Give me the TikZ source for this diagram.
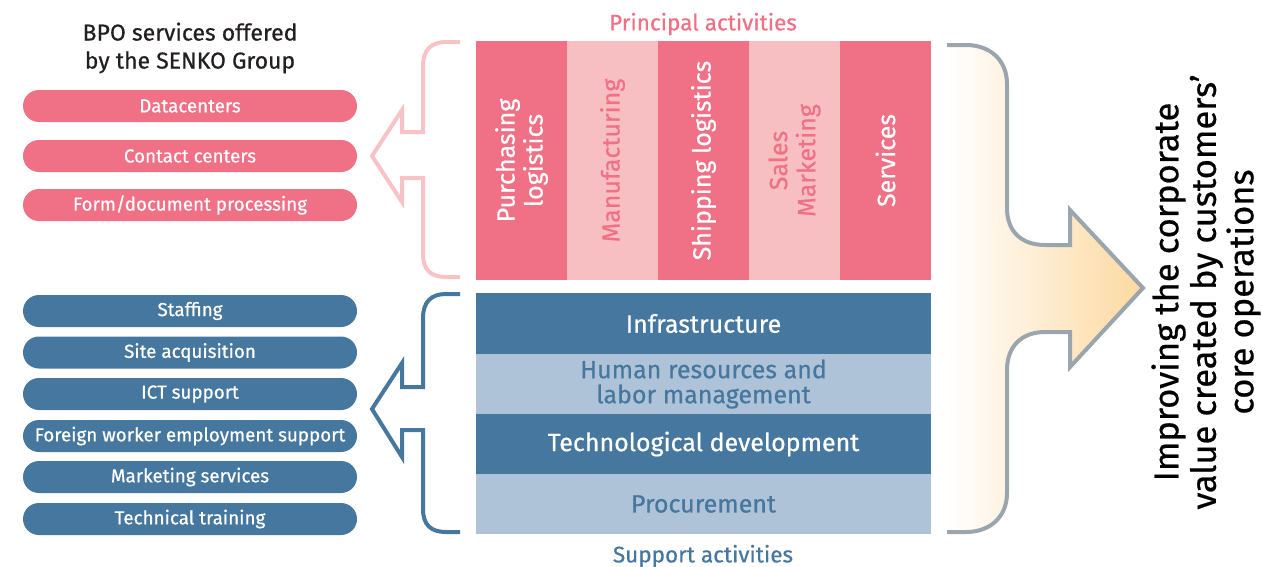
\documentclass[tikz,border=0pt]{standalone}
\usepackage{fontspec}
\setmainfont{Fira Sans}[FakeBold=0.6]
\definecolor{pinkD}{HTML}{F07086}
\definecolor{pinkL}{HTML}{F8BFC3}
\definecolor{pinkLine}{HTML}{F7C3C6}
\definecolor{blueD}{HTML}{46779E}
\definecolor{blueL}{HTML}{AFC3D8}
\definecolor{grayLine}{HTML}{9AA5AD}
\definecolor{orangeF}{HTML}{FDD9A0}
\definecolor{titleC}{HTML}{231F20}
\tikzset{
  pill/.style={rectangle, rounded corners=16pt, minimum width=334pt, minimum height=32pt, inner sep=0pt, text=white, font=\fontsize{18.8}{20}\selectfont},
  pinkpill/.style={pill, fill=pinkD},
  bluepill/.style={pill, fill=blueD},
  colbox/.style={rectangle, minimum width=91pt, minimum height=239pt, inner sep=0pt},
  coltext/.style={rotate=90, align=center, inner sep=0pt, font=\fontsize{25}{28}\selectfont},
  rowbox/.style={rectangle, minimum width=455pt, minimum height=60.5pt, inner sep=0pt, align=center, font=\fontsize{25}{25}\selectfont},
  bracket/.style={line width=4pt, line join=miter},
}
\begin{document}
\begin{tikzpicture}[x=1pt,y=-1pt]
\useasboundingbox (0,0) rectangle (1262,566);

% title
\node[align=center, text=titleC, font=\fontsize{23}{28}\selectfont] (title) at (190,48) {BPO services offered\\by the SENKO Group};

% pink pills
\node[pinkpill] (p1) at (190,106) {Datacenters};
\node[pinkpill] (p2) at (190,156) {Contact centers};
\node[pinkpill] (p3) at (190,205) {Form/document processing};

% blue pills
\node[bluepill] (b1) at (190,311) {Staffing};
\node[bluepill] (b2) at (190,352.5) {Site acquisition};
\node[bluepill] (b3) at (190,394) {ICT support};
\node[bluepill] (b4) at (190,436) {Foreign worker employment support};
\node[bluepill] (b5) at (190,477) {Marketing services};
\node[bluepill] (b6) at (190,519) {Technical training};

% principal activities
\node[text=pinkD, font=\fontsize{22.5}{24}\selectfont] (pa) at (703,24) {Principal activities};
\node[colbox, fill=pinkD] (c1) at (521.5,160.5) {};
\node[colbox, fill=pinkL] (c2) at (612.5,160.5) {};
\node[colbox, fill=pinkD] (c3) at (703.5,160.5) {};
\node[colbox, fill=pinkL] (c4) at (794.5,160.5) {};
\node[colbox, fill=pinkD] (c5) at (885.5,160.5) {};
\node[coltext, text=white] (t1) at (c1) {Purchasing\\logistics};
\node[coltext, text=pinkD] (t2) at (c2) {Manufacturing};
\node[coltext, text=white] (t3) at (c3) {Shipping logistics};
\node[coltext, text=pinkD] (t4) at (c4) {Sales\\Marketing};
\node[coltext, text=white] (t5) at (c5) {Services};

% support activities
\node[rowbox, fill=blueD, text=white] (r1) at (703.5,323.5) {Infrastructure};
\node[rowbox, fill=blueL, text=blueD] (r2) at (703.5,384) {Human resources and\\labor management};
\node[rowbox, fill=blueD, text=white] (r3) at (703.5,444) {Technological development};
\node[rowbox, fill=blueL, text=blueD] (r4) at (703.5,504) {Procurement};
\node[text=blueD, font=\fontsize{22.5}{24}\selectfont] (sa) at (703,556) {Support activities};

% pink bracket arrow
\draw[bracket, pinkLine] (460,42) -- (446,42) .. controls (431,42) and (423,50) .. (423,66)
  -- (423,132) -- (402,132) -- (402,110) -- (372,156) -- (402,202) -- (402,178) -- (423,178)
  -- (423,254) .. controls (423,270) and (431,277) .. (446,277) -- (460,277);

% blue bracket arrow
\draw[bracket, blueD] (460,294) -- (446,294) .. controls (431,294) and (423,302) .. (423,318)
  -- (423,387) -- (402,387) -- (402,363) -- (372,409) -- (402,457) -- (402,430) -- (423,430)
  -- (423,509) .. controls (423,525) and (431,532) .. (446,532) -- (460,532);

% big arrow
\shade[left color=white, right color=orangeF] (947,45) -- (966,45) .. controls (990,45) and (1007,60) .. (1007,84)
  -- (1007,208) .. controls (1007,232) and (1022,245) .. (1045,245) -- (1070,245) -- (1070,210)
  -- (1143,288) -- (1070,367) -- (1070,332) -- (1045,332)
  .. controls (1022,332) and (1007,346) .. (1007,370) -- (1007,493)
  .. controls (1007,517) and (990,532) .. (966,532) -- (947,532) -- cycle;
\draw[bracket, grayLine] (947,45) -- (966,45) .. controls (990,45) and (1007,60) .. (1007,84)
  -- (1007,208) .. controls (1007,232) and (1022,245) .. (1045,245) -- (1070,245) -- (1070,210)
  -- (1143,288) -- (1070,367) -- (1070,332) -- (1045,332)
  .. controls (1022,332) and (1007,346) .. (1007,370) -- (1007,493)
  .. controls (1007,517) and (990,532) .. (966,532) -- (947,532);

% result text
\node[rotate=90, align=center, inner sep=0pt, text=black, font=\fontsize{34.5}{37.5}\selectfont] (res) at (1206,292) {Improving the corporate\\value created by customers’\\core operations};
\end{tikzpicture}
\end{document}
